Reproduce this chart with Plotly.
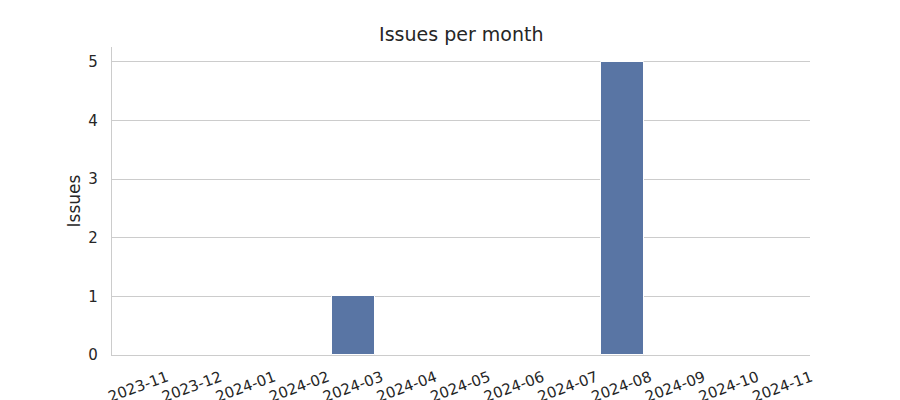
import plotly.graph_objects as go

months = ["2023-11", "2023-12", "2024-01", "2024-02", "2024-03", "2024-04", "2024-05",
          "2024-06", "2024-07", "2024-08", "2024-09", "2024-10", "2024-11"]
issues = [0, 0, 0, 0, 1, 0, 0, 0, 0, 5, 0, 0, 0]

FONT = "DejaVu Sans"
TXT = "#262626"

fig = go.Figure(go.Bar(
    x=months, y=issues, width=0.8,
    marker=dict(color="#5975a4", line=dict(color="white", width=1)),
))

fig.update_layout(
    width=900, height=400,
    margin=dict(l=112, r=90, t=47, b=45),
    paper_bgcolor="white", plot_bgcolor="white",
    font=dict(family=FONT, color=TXT, size=15),
    title=dict(text="Issues per month", x=0.5125, xanchor="center", y=0.915, yanchor="middle",
               font=dict(family=FONT, size=19, color=TXT)),
    showlegend=False,
    bargap=0,
)
fig.update_xaxes(
    type="category", range=[-0.5, 12.5], automargin=False,
    showgrid=False, showline=True, linecolor="#cccccc", linewidth=1.3,
    ticks="", tickangle=-20, tickfont=dict(size=15, color=TXT),
    ticklabelshift=28, ticklabelstandoff=7,
)
fig.update_yaxes(
    range=[0, 5.25], dtick=1, tick0=0, automargin=False,
    showgrid=True, gridcolor="#cccccc", gridwidth=1.3,
    showline=True, linecolor="#cccccc", linewidth=1.3, zeroline=False,
    ticks="", tickfont=dict(size=15, color=TXT), ticklabelstandoff=10,
    title=dict(text="Issues", font=dict(size=17, color=TXT), standoff=3),
)

fig.write_html("out.html")
